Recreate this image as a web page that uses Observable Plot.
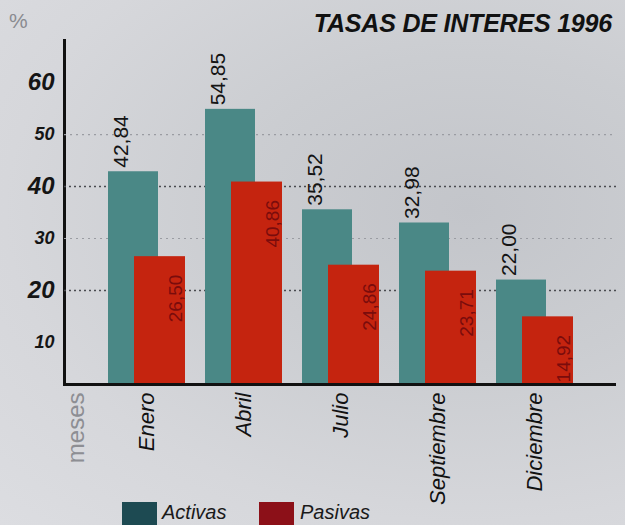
<!DOCTYPE html>
<html>
<head>
<meta charset="utf-8">
<script src="https://cdn.jsdelivr.net/npm/d3@7"></script>
<script src="https://cdn.jsdelivr.net/npm/@observablehq/plot@0.6"></script>
<style>
  html, body { margin: 0; padding: 0; }
  body {
    width: 625px; height: 525px; overflow: hidden; position: relative;
    font-family: "Liberation Sans", Arial, sans-serif;
    background: radial-gradient(ellipse at 75% 40%, #c3c5ca 0%, #cbcdd1 35%, #d6d7db 70%, #dcdde1 100%);
  }
  #chart { position: absolute; left: 0; top: 0; }
  #chart svg { background: transparent !important; }
  #chart svg [aria-label="frame"],
  #chart svg [aria-label="frame"] line,
  #chart svg [aria-label*="y-axis"] line,
  #chart svg [aria-label*="y-axis"] path,
  #chart svg .domain { stroke: #111; stroke-width: 3px; stroke-opacity: 1; }
  #title {
    position: absolute; right: 13px; top: 9px;
    font: italic bold 25px "Liberation Sans", Arial, sans-serif; color: #111;
    letter-spacing: -0.2px;
  }
  #pct { position: absolute; left: 9px; top: 9px; font: 21px "Liberation Sans", Arial, sans-serif; color: #8a8b90; }
  #legend { position: absolute; left: 0; top: 501px; width: 625px; height: 30px; }
  .sw { position: absolute; top: 1px; width: 35px; height: 30px; }
  .lt { position: absolute; top: 0px; font: italic 500 20px "Liberation Sans", Arial, sans-serif; color: #1a1a1a; }
</style>
</head>
<body>
<div id="chart"></div>
<div id="pct">%</div>
<div id="title">TASAS DE INTERES 1996</div>
<div id="legend">
  <div class="sw" style="left:122px;background:#1d4a52"></div>
  <div class="lt" style="left:162px">Activas</div>
  <div class="sw" style="left:259px;background:#8c1018"></div>
  <div class="lt" style="left:300px">Pasivas</div>
</div>
<script>
const months = ["Enero", "Abril", "Julio", "Septiembre", "Diciembre"];
const activas = [42.84, 54.85, 35.52, 32.98, 22.00];
const pasivas = [26.50, 40.86, 24.86, 23.71, 14.92];
const bigTicks = [20, 40, 60];
const smallTicks = [10, 30, 50];
const yDomain = [1.9, 68.1];

const fmt = v => v.toFixed(2).replace(".", ",");
const dataA = months.map((m, i) => ({month: m, value: activas[i]}));
const dataP = months.map((m, i) => ({month: m, value: pasivas[i]}));

const chart = Plot.plot({
  width: 625,
  height: 525,
  marginLeft: 64,
  marginRight: 9,
  marginTop: 40,
  marginBottom: 141,
  style: {background: "transparent", overflow: "visible", fontFamily: "'Liberation Sans', Arial, sans-serif"},
  x: {domain: months, paddingInner: 0, paddingOuter: 0.34, axis: null},
  y: {domain: yDomain, line: true, tickSize: 0, tickFormat: () => "", ticks: bigTicks, label: null},
  marks: [
    Plot.ruleY(smallTicks.filter(d => d > 20), {stroke: "#9a9ca2", strokeDasharray: "2,4", strokeWidth: 1.2}),
    Plot.ruleY(bigTicks.filter(d => d < 60), {stroke: "#4a4b50", strokeDasharray: "2,3", strokeWidth: 1.6}),
    Plot.barY(dataA, {x: "month", y: "value", fill: "#4a8886", insetLeft: 10, insetRight: 37, clip: true}),
    Plot.barY(dataP, {x: "month", y: "value", fill: "#c5240f", insetLeft: 36, insetRight: 10, clip: true}),
    Plot.text(dataA, {x: "month", y: "value", text: d => fmt(d.value), rotate: -90, textAnchor: "start",
      lineAnchor: "middle", dx: -26, dy: -4, fontSize: 21, fill: "#141414"}),
    Plot.text(dataP, {x: "month", y: "value", text: d => fmt(d.value), rotate: -90, textAnchor: "end",
      lineAnchor: "middle", dx: 29, dy: 18, fontSize: 19, fill: "#7a0c0c"}),
    Plot.text(bigTicks, {y: d => d, frameAnchor: "left", dx: -10, textAnchor: "end",
      fontSize: 24, fontWeight: "bold", fontStyle: "italic", fill: "#151515"}),
    Plot.text(smallTicks, {y: d => d, frameAnchor: "left", dx: -10, textAnchor: "end",
      fontSize: 18, fontWeight: "bold", fontStyle: "italic", fill: "#151515"}),
    Plot.text(months, {x: d => d, frameAnchor: "bottom", rotate: -90, textAnchor: "end",
      lineAnchor: "middle", dy: 8, fontSize: 22, fontStyle: "italic", fill: "#111"}),
    Plot.text(["meses"], {frameAnchor: "bottom-left", rotate: -90, textAnchor: "end",
      lineAnchor: "middle", dx: 12, dy: 8, fontSize: 24, fill: "#8d8e93"}),
    Plot.ruleY([yDomain[0]], {stroke: "#111", strokeWidth: 3})
  ]
});
document.getElementById("chart").appendChild(chart);
</script>
</body>
</html>
